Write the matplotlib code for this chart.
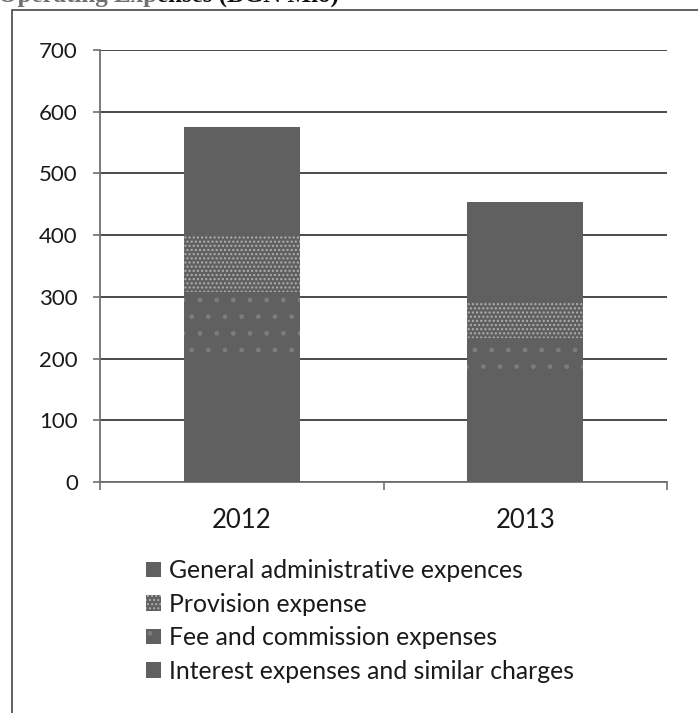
import matplotlib.pyplot as plt
import numpy as np
from matplotlib.patches import Rectangle

# data (BGN Mio)
years = ['2012', '2013']
interest = [195, 165]
fee = [113, 68]
provision = [92, 57]
general = [175, 164]

labels = ['General administrative expences', 'Provision expense',
          'Fee and commission expenses', 'Interest expenses and similar charges']
yticks = [0, 100, 200, 300, 400, 500, 600, 700]

bar_col = '#606060'
W, H = 698, 713

fig = plt.figure(figsize=(W / 100, H / 100), dpi=100)
ax = fig.add_axes([100 / W, (H - 482) / H, (667 - 100) / W, (482 - 50) / H])

x = np.arange(len(years))
w = 0.41
b1 = ax.bar(x, interest, w, color=bar_col, lw=0, zorder=3)
bot = np.array(interest)
b2 = ax.bar(x, fee, w, bottom=bot, color=bar_col, edgecolor='#7c7c7c', hatch='.', lw=0, zorder=3)
bot = bot + np.array(fee)
b3 = ax.bar(x, provision, w, bottom=bot, color=bar_col, edgecolor='#b0b0b0', hatch='....', lw=0, zorder=3)
bot = bot + np.array(provision)
b4 = ax.bar(x, general, w, bottom=bot, color=bar_col, lw=0, zorder=3)

ax.set_xlim(-0.5, len(years) - 0.5)
ax.set_ylim(0, 700)
ax.set_yticks(yticks)
ax.set_yticklabels([str(v) for v in yticks])
ax.set_xticks(x)
ax.set_xticklabels(years)
ax.set_xticks(np.arange(-0.5, len(years)), minor=True)

for s in ['top', 'right']:
    ax.spines[s].set_visible(False)
ax.spines['left'].set_color('#707070')
ax.spines['bottom'].set_color('#707070')
ax.spines['left'].set_linewidth(1.3)
ax.spines['bottom'].set_linewidth(1.3)

ax.grid(axis='y', color='#3c3c3c', lw=1.3, zorder=1)
ax.tick_params(axis='y', direction='out', length=5, width=1.2, color='#707070',
               pad=11, labelsize=16, labelcolor='#1a1a1a')
ax.tick_params(axis='x', which='major', length=0, pad=19, labelsize=18.5, labelcolor='#1a1a1a')
ax.tick_params(axis='x', which='minor', direction='out', length=6, width=1.2, color='#707070')
for t in ax.get_xticklabels() + ax.get_yticklabels():
    t.set_family(['Lato', 'DejaVu Sans'])

leg = fig.legend([b4, b3, b2, b1], labels, loc='upper left',
                 bbox_to_anchor=(134 / W, (H - 547) / H), frameon=False,
                 prop={'family': ['Lato', 'DejaVu Sans'], 'size': 17.8},
                 handlelength=0.6, handleheight=0.6, handletextpad=0.3,
                 labelspacing=0.42, borderpad=0)
for t in leg.get_texts():
    t.set_color('#1a1a1a')

# frame of the scanned page box
fig.patches.append(Rectangle((12 / W, -0.05), 1.2, (H - 10) / H + 0.05,
                             transform=fig.transFigure, fill=False,
                             edgecolor='#555555', lw=1.3))

# title, only its lower part is visible in the scan
t1 = fig.text(-2 / W, 1 - 2 / H, 'Operating Exp', family='Liberation Serif',
              weight='bold', size=18, color='#707070', va='baseline')
fig.canvas.draw()
bb = t1.get_window_extent()
fig.text(bb.x1 / W, 1 - 2 / H, 'enses (BGN Mio)', family='Liberation Serif',
         weight='bold', size=18, color='#111111', va='baseline')

fig.savefig('out.png', dpi=100)
